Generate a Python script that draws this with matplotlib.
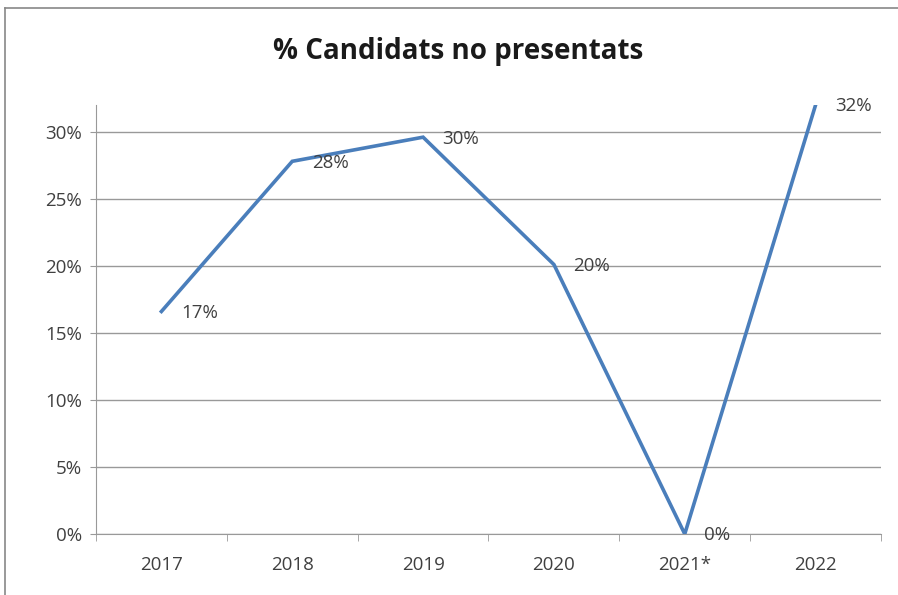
import numpy as np
import matplotlib.pyplot as plt
from matplotlib.lines import Line2D

# data
years = ['2017', '2018', '2019', '2020', '2021*', '2022']
pct = [0.166, 0.278, 0.296, 0.201, 0.0, 0.32]
labels = ['17%', '28%', '30%', '20%', '0%', '32%']
yticks = [0, 0.05, 0.10, 0.15, 0.20, 0.25, 0.30]

plt.rcParams['font.family'] = ['Open Sans', 'DejaVu Sans']
txt = '#404040'

fig = plt.figure(figsize=(8.98, 5.95), dpi=100)
ax = fig.add_axes([96/898, 1-534/595, 785/898, 429/595])

x = np.arange(len(years))
ax.plot(x, pct, color='#4A7EBB', lw=2.6, solid_joinstyle='miter', zorder=3)
for xi, v, lab in zip(x, pct, labels):
    ax.annotate(lab, (xi, v), xytext=(14, -1), textcoords='offset points',
                ha='left', va='center', fontsize=13.5, color=txt, zorder=4)

ax.set_xlim(-0.5, len(years)-0.5)
ax.set_ylim(0, 0.32)
ax.set_yticks(yticks)
ax.set_yticklabels(['%d%%' % round(t*100) for t in yticks], fontsize=13.5, color=txt)
ax.set_xticks(x)
ax.set_xticklabels(years, fontsize=13.5, color=txt)
ax.set_xticks(np.arange(-0.5, len(years)), minor=True)
ax.tick_params(axis='x', which='major', length=0, pad=16)
ax.tick_params(axis='x', which='minor', length=5, color='#999999', direction='out')
ax.tick_params(axis='y', length=4, color='#999999', pad=6)
ax.grid(axis='y', color='#999999', lw=1)
for s in ['top', 'right']:
    ax.spines[s].set_visible(False)
ax.spines['left'].set_color('#999999')
ax.spines['bottom'].set_color('#999999')

fig.text(458/898, 1-52/595, '% Candidats no presentats', ha='center', va='center',
         fontsize=20, fontweight='bold', color='#1a1a1a')

# outer chart frame (cropped at right and bottom)
fig.add_artist(Line2D([5/898, 5/898], [0, 1-8/595], color='#888888', lw=1.2))
fig.add_artist(Line2D([5/898, 1], [1-8/595, 1-8/595], color='#888888', lw=1.2))

fig.savefig('out.png', dpi=100)
